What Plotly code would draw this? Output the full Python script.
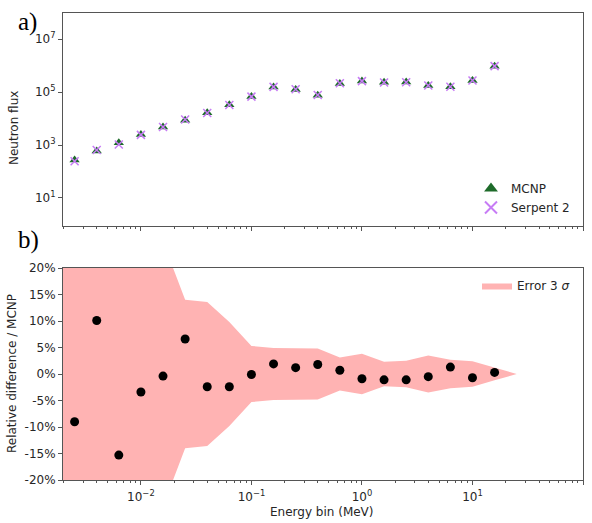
import plotly.graph_objects as go

W, H = 592, 523

# ---- data ----
log_energy = [-2.6, -2.4, -2.2, -2.0, -1.8, -1.6, -1.4, -1.2, -1.0, -0.8,
              -0.6, -0.4, -0.2, 0.0, 0.2, 0.4, 0.6, 0.8, 1.0, 1.2]
energy = [10 ** v for v in log_energy]  # MeV, bin centres

log_flux_mcnp = [2.43, 2.77, 3.09, 3.40, 3.68, 3.94, 4.22, 4.52, 4.83, 5.19,
                 5.10, 4.88, 5.33, 5.42, 5.37, 5.38, 5.25, 5.20, 5.44, 5.98]
rel_diff = [-9.0, 10.1, -15.3, -3.4, -0.4, 6.6, -2.4, -2.4, -0.1, 1.9,
            1.2, 1.8, 0.7, -0.9, -1.1, -1.1, -0.5, 1.3, -0.7, 0.3]  # %
flux_mcnp = [10 ** v for v in log_flux_mcnp]
flux_serpent = [f * (1 + d / 100) for f, d in zip(flux_mcnp, rel_diff)]

band_energy = [10 ** -2.8] + energy + [10 ** 1.4]
band_err = [70, 60, 50, 45, 35, 25, 14, 13.6, 9.8, 5.3, 4.9,
            4.9, 4.8, 3.1, 3.8, 2.3, 2.5, 3.5, 2.7, 2.4, 1.2, 0]  # 3 sigma, %

x_major = [1e-2, 1e-1, 1e0, 1e1, 1e2]
x_major_text = ["10<sup>−2</sup>", "10<sup>−1</sup>", "10<sup>0</sup>",
                "10<sup>1</sup>", "10<sup>2</sup>"]
x_minor = [m * 10 ** d for d in range(-3, 2) for m in range(2, 10)]
y_top_ticks = [1e1, 1e3, 1e5, 1e7]
y_top_text = ["10<sup>1</sup>", "10<sup>3</sup>", "10<sup>5</sup>", "10<sup>7</sup>"]
y_bot_ticks = [-20, -15, -10, -5, 0, 5, 10, 15, 20]
y_bot_text = [f"{v}%" for v in y_bot_ticks]

# ---- geometry helpers ----
def px(x):
    return x / W

def py(y):
    return 1 - y / H

xdom = [px(63), px(583)]
AX = "#555555"
TXT = "#262626"
FONT = "DejaVu Sans"

fig = go.Figure()

fig.add_trace(go.Scatter(
    x=energy, y=flux_mcnp, mode="markers", name="MCNP",
    marker=dict(symbol="triangle-up", size=9, color="#1e6b2a"),
    xaxis="x", yaxis="y", legend="legend"))
fig.add_trace(go.Scatter(
    x=energy, y=flux_serpent, mode="markers", name="Serpent 2",
    marker=dict(symbol="x-thin", size=8, color="#c77cf5",
                line=dict(width=1.5, color="#c77cf5")),
    xaxis="x", yaxis="y", legend="legend"))

band_x = band_energy + band_energy[::-1]
band_y = band_err + [-e for e in band_err[::-1]]
fig.add_trace(go.Scatter(
    x=band_x, y=band_y, mode="lines", fill="toself", name="Error 3 <i>σ</i>",
    fillcolor="#ffb3b3", line=dict(width=0, color="#ffb3b3"),
    xaxis="x2", yaxis="y2", legend="legend2"))
fig.add_trace(go.Scatter(
    x=energy, y=rel_diff, mode="markers", showlegend=False,
    marker=dict(symbol="circle", size=9, color="black"),
    xaxis="x2", yaxis="y2"))

common_axis = dict(showline=True, linecolor=AX, linewidth=1, mirror=True,
                   showgrid=False, zeroline=False, ticks="outside", automargin=False,
                   tickcolor=AX, ticklen=4, tickfont=dict(family=FONT, size=12, color=TXT))

fig.update_layout(
    width=W, height=H, margin=dict(l=0, r=0, t=0, b=0, pad=0),
    paper_bgcolor="white", plot_bgcolor="white",
    font=dict(family=FONT, size=12, color=TXT),
    xaxis=dict(domain=xdom, anchor="y", type="log", range=[-2.705, 2],
               tickvals=x_major, ticktext=x_major_text, showticklabels=False,
               minor=dict(tickvals=x_minor, ticks="outside", ticklen=2, tickcolor=AX),
               **common_axis),
    yaxis=dict(domain=[py(226), py(13)], anchor="x", type="log", range=[-0.06, 7.99],
               tickvals=y_top_ticks, ticktext=y_top_text, **common_axis),
    xaxis2=dict(domain=xdom, anchor="y2", type="log", range=[-2.705, 2],
                tickvals=x_major, ticktext=x_major_text, ticklabelstandoff=2,
                minor=dict(tickvals=x_minor, ticks="outside", ticklen=2, tickcolor=AX),
                **common_axis),
    yaxis2=dict(domain=[py(480), py(268)], anchor="x2", range=[-20, 20],
                tickvals=y_bot_ticks, ticktext=y_bot_text, **common_axis),
    legend=dict(x=px(575), y=py(174), xanchor="right", yanchor="top",
                bgcolor="rgba(0,0,0,0)", font=dict(family=FONT, size=12, color=TXT),
                tracegroupgap=0, itemsizing="constant"),
    legend2=dict(x=px(575), y=py(271), xanchor="right", yanchor="top",
                 bgcolor="rgba(0,0,0,0)", font=dict(family=FONT, size=12, color=TXT)),
    showlegend=True,
    annotations=[
        dict(text="a)", x=px(16), y=py(22), xref="paper", yref="paper",
             xanchor="left", yanchor="middle", showarrow=False,
             font=dict(family="Liberation Serif", size=25, color="black")),
        dict(text="b)", x=px(16), y=py(240), xref="paper", yref="paper",
             xanchor="left", yanchor="middle", showarrow=False,
             font=dict(family="Liberation Serif", size=25, color="black")),
        dict(text="Neutron flux", x=px(14), y=py(128), xref="paper", yref="paper",
             textangle=-90, showarrow=False, xanchor="center", yanchor="middle",
             font=dict(family=FONT, size=12, color=TXT)),
        dict(text="Relative difference / MCNP", x=px(12), y=py(374), xref="paper",
             yref="paper", textangle=-90, showarrow=False, xanchor="center",
             yanchor="middle", font=dict(family=FONT, size=12, color=TXT)),
        dict(text="Energy bin (MeV)", x=px(322), y=py(512), xref="paper", yref="paper",
             showarrow=False, xanchor="center", yanchor="middle",
             font=dict(family=FONT, size=12, color=TXT)),
    ],
)

fig.write_html("out.html")
